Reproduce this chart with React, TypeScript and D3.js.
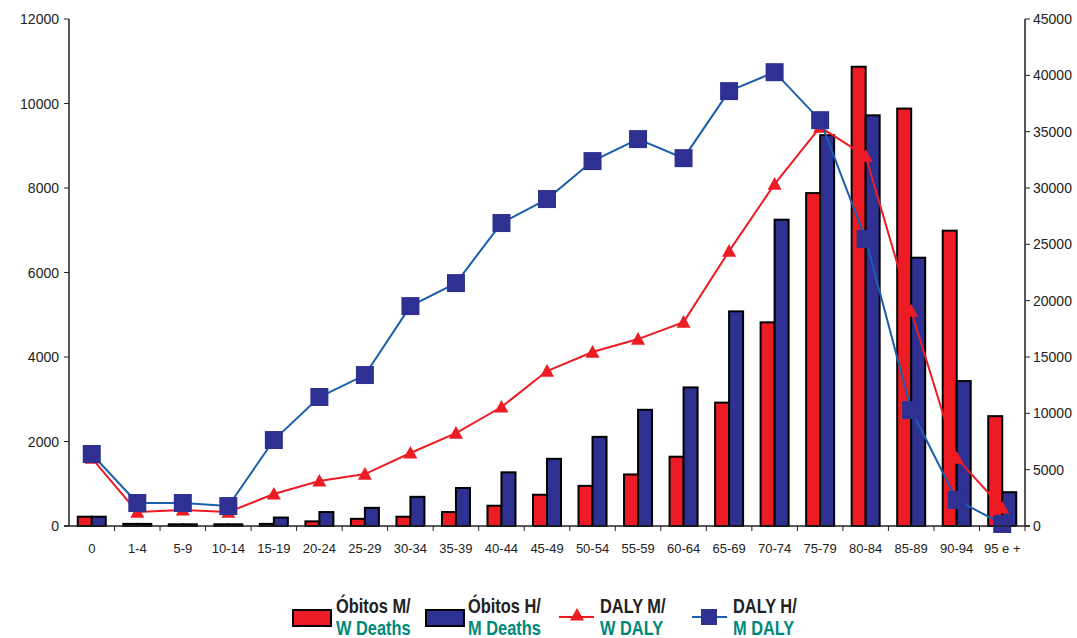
import * as d3 from 'd3';

const categories = ['0','1-4','5-9','10-14','15-19','20-24','25-29','30-34','35-39','40-44','45-49','50-54','55-59','60-64','65-69','70-74','75-79','80-84','85-89','90-94','95 e +'];
const deathsW = [220,50,40,40,50,110,170,220,330,480,740,950,1220,1640,2920,4820,7880,10870,9880,6990,2600];
const deathsM = [220,50,40,40,200,330,430,690,900,1270,1590,2110,2750,3280,5080,7250,9250,9720,6350,3430,800];
const dalyW = [6030,1240,1420,1240,2840,4000,4610,6480,8250,10560,13750,15440,16590,18100,24400,30350,35400,32830,19080,6030,1600];
const dalyM = [6390,2040,2040,1770,7630,11450,13400,19520,21560,26890,29020,32390,34340,32650,38600,40280,36020,25470,10290,2310,180];
const leftTicks = d3.range(0, 12001, 2000);
const rightTicks = d3.range(0, 45001, 5000);

const RED = '#ED1C24';
const NAVY = '#2E3192';
const LBLUE = '#1B5EAB';
const TEAL = '#00897B';
const W = 1077, H = 638;
const L = 69, R = 1025, T = 19, B = 526;

function LegText({ x, top, bottom }: { x: number; top: string; bottom: string }) {
  return (
    <g>
      <text transform={`translate(${x},613) scale(0.82,1)`} fill="#222">{top}</text>
      <text transform={`translate(${x},635) scale(0.82,1)`} fill={TEAL}>{bottom}</text>
    </g>
  );
}

export default function App() {
  const x = d3.scaleBand().domain(categories).range([L, R]);
  const yL = d3.scaleLinear().domain([0, 12000]).range([B, T]);
  const yR = d3.scaleLinear().domain([0, 45000]).range([B, T]);
  const bw = 14;
  const cx = (i: number) => x(categories[i])! + x.bandwidth() / 2;
  const lineW = d3.line<number>().x((_, i) => cx(i)).y(d => yR(d));
  const tri = (px: number, py: number, s: number) => `M${px},${py - s}L${px + s},${py + s * 0.8}L${px - s},${py + s * 0.8}Z`;
  const font = 'Liberation Sans, Arial, sans-serif';

  return (
    <svg width={W} height={H} style={{ position: 'absolute', left: 0, top: 0, fontFamily: font }}>
      <rect width={W} height={H} fill="#fff" />
      {categories.map((c, i) => (
        <g key={c}>
          <rect x={cx(i) - bw} y={yL(deathsW[i])} width={bw} height={B - yL(deathsW[i])} fill={RED} stroke="#000" strokeWidth={2} />
          <rect x={cx(i)} y={yL(deathsM[i])} width={bw} height={B - yL(deathsM[i])} fill={NAVY} stroke="#000" strokeWidth={2} />
        </g>
      ))}
      <path d={lineW(dalyW)!} fill="none" stroke={RED} strokeWidth={2} />
      {dalyW.map((v, i) => <path key={i} d={tri(cx(i), yR(v), 7)} fill={RED} />)}
      <path d={lineW(dalyM)!} fill="none" stroke={LBLUE} strokeWidth={2} />
      {dalyM.map((v, i) => <rect key={i} x={cx(i) - 9} y={yR(v) - 9} width={18} height={18} fill={NAVY} />)}
      {/* axes */}
      <line x1={L} x2={L} y1={T} y2={B} stroke="#222" strokeWidth={1.5} />
      <line x1={R} x2={R} y1={T} y2={B} stroke="#222" strokeWidth={1.5} />
      <line x1={L - 5} x2={R + 5} y1={B} y2={B} stroke="#222" strokeWidth={1.5} />
      {leftTicks.map(t => (
        <g key={t}>
          <line x1={L - 5} x2={L} y1={yL(t)} y2={yL(t)} stroke="#222" />
          <text x={L - 10} y={yL(t) + 5} textAnchor="end" fontSize={14} fill="#222">{t}</text>
        </g>
      ))}
      {rightTicks.map(t => (
        <g key={t}>
          <line x1={R} x2={R + 5} y1={yR(t)} y2={yR(t)} stroke="#222" />
          <text x={R + 8} y={yR(t) + 5} fontSize={14} fill="#222">{t}</text>
        </g>
      ))}
      {categories.map((c, i) => (
        <g key={c}>
          {i > 0 && <line x1={x(c)!} x2={x(c)!} y1={B} y2={B + 5} stroke="#222" />}
          <text x={cx(i)} y={B + 27} textAnchor="middle" fontSize={13} fill="#222">{c}</text>
        </g>
      ))}
      <line x1={R} x2={R} y1={B} y2={B + 5} stroke="#222" />
      {/* legend */}
      <g fontSize={20} fontWeight="bold">
        <rect x={293} y={610} width={38} height={16} fill={RED} stroke="#000" strokeWidth={2} />
        <LegText x={336} top="Óbitos M/" bottom="W Deaths" />
        <rect x={426} y={610} width={38} height={16} fill={NAVY} stroke="#000" strokeWidth={2} />
        <LegText x={468} top="Óbitos H/" bottom="M Deaths" />
        <line x1={559} x2={594} y1={617} y2={617} stroke={RED} strokeWidth={2} />
        <path d={tri(577, 615, 7)} fill={RED} />
        <LegText x={600} top="DALY M/" bottom="W DALY" />
        <line x1={692} x2={727} y1={617} y2={617} stroke={LBLUE} strokeWidth={2} />
        <rect x={701} y={609} width={16} height={16} fill={NAVY} />
        <LegText x={733} top="DALY H/" bottom="M DALY" />
      </g>
    </svg>
  );
}
